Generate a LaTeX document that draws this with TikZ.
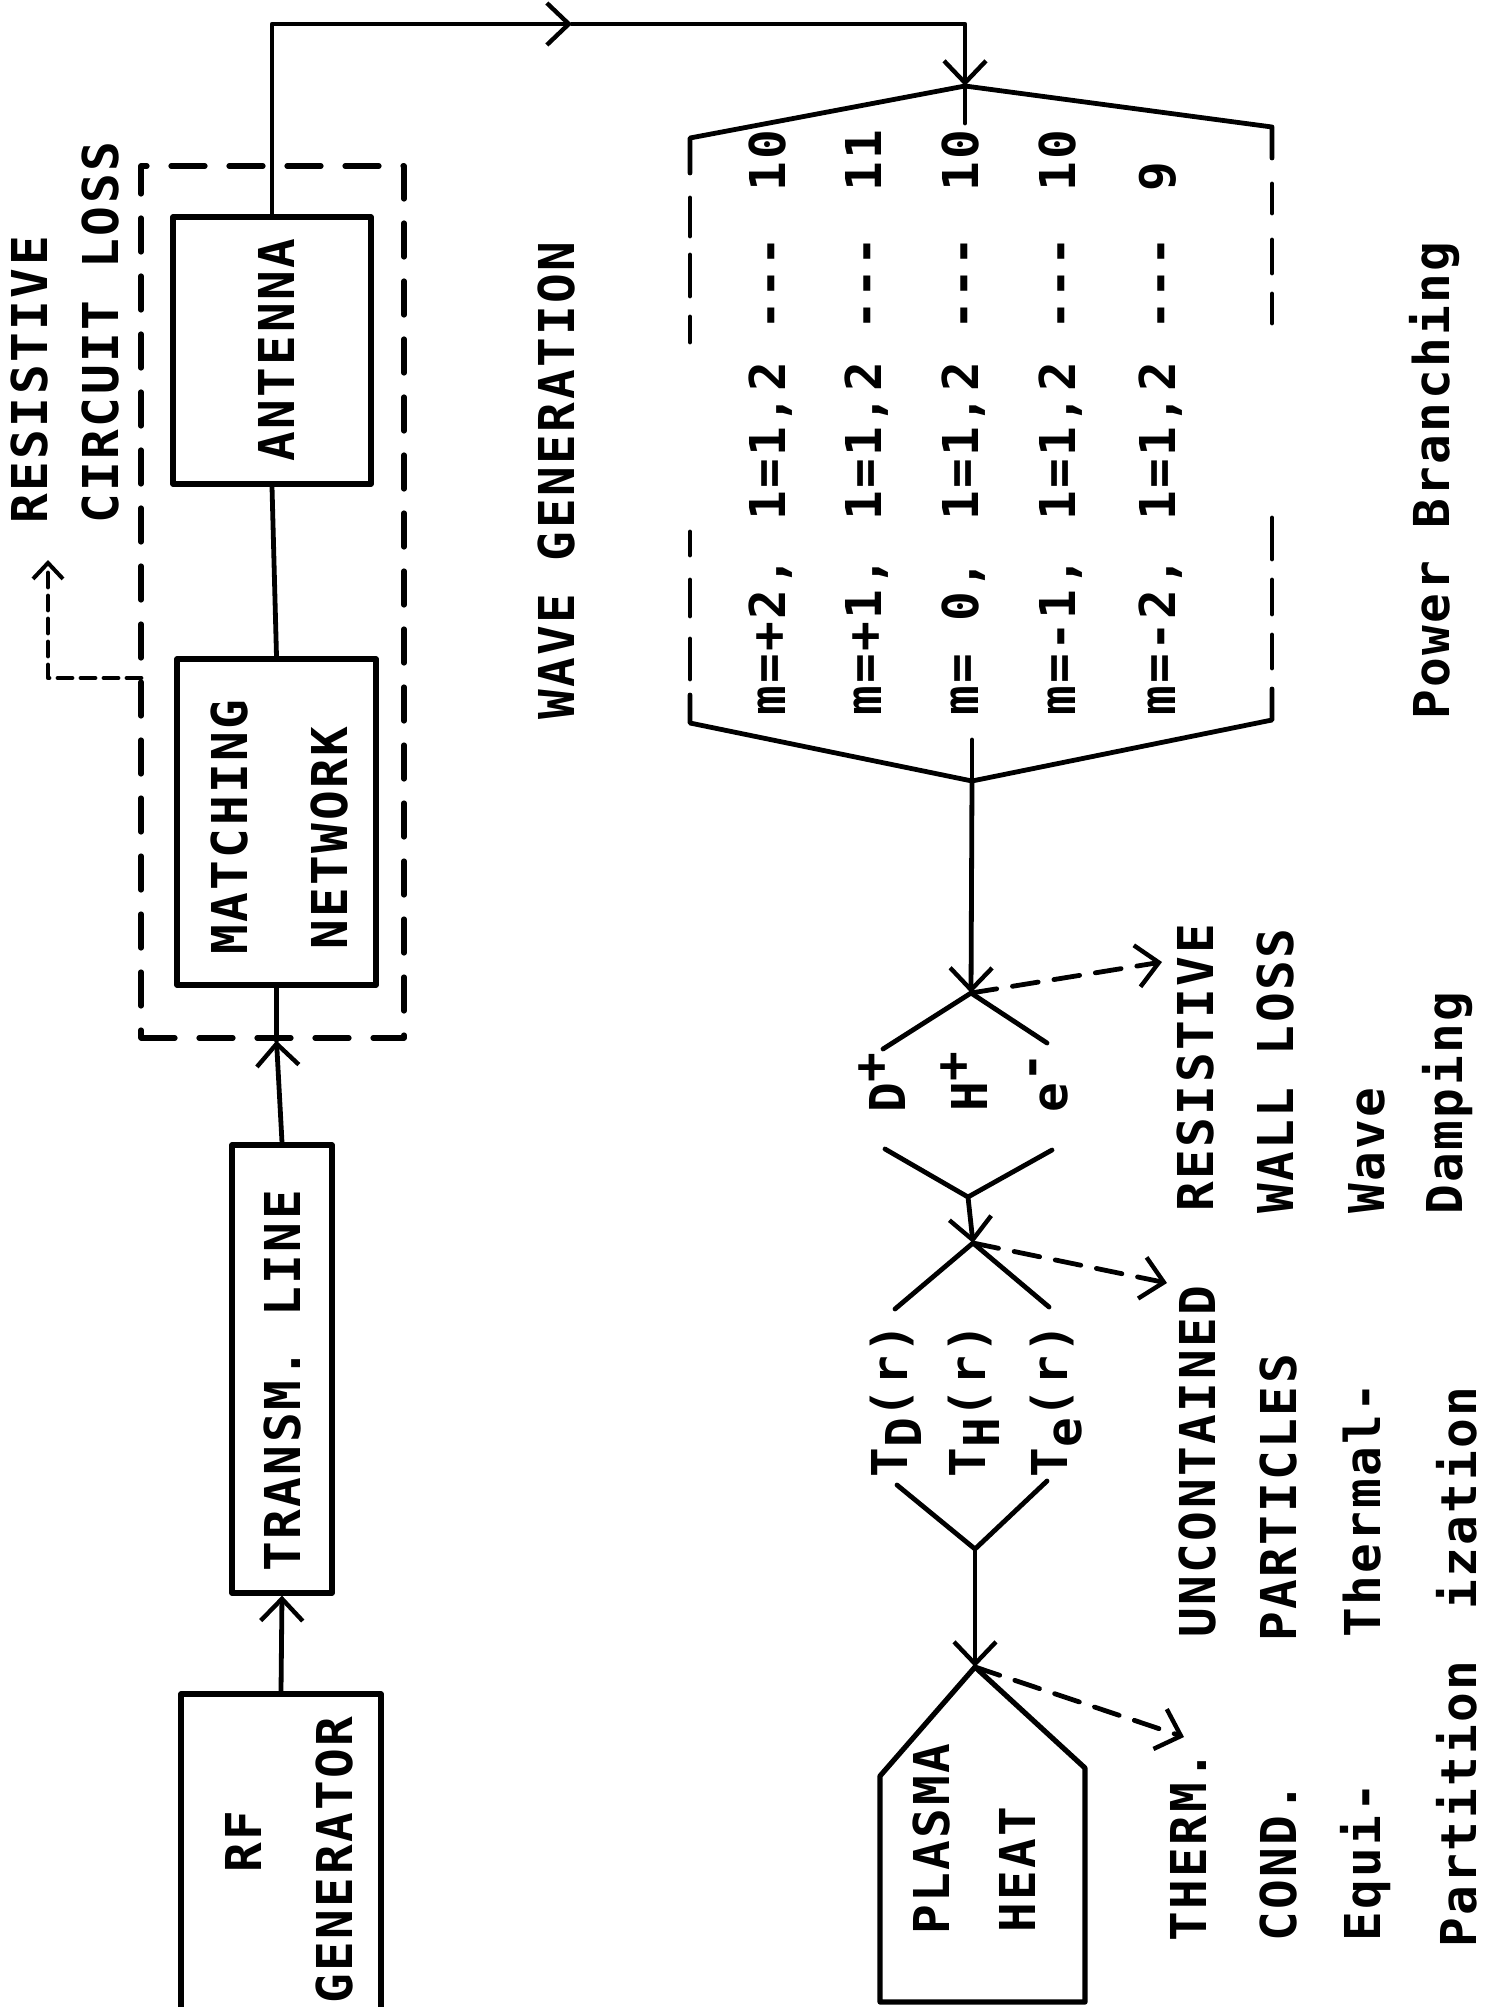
\documentclass[tikz,border=0pt]{standalone}
\usepackage{fontspec}
\newfontfamily\tw{DejaVu Sans Mono}[LetterSpace=5]
\usetikzlibrary{arrows.meta}
\begin{document}
\begin{tikzpicture}[x=0.5pt,y=-0.5pt,line width=2.4pt,line cap=round,line join=round,
  lbl/.style={font=\tw\bfseries\fontsize{24.7}{29}\selectfont,inner sep=0pt,rotate=90,anchor=base west},
  box/.style={draw,line width=2.6pt,inner sep=0pt},
  tipA/.style={-{Straight Barb[length=11pt,width=21pt,line width=2.2pt]}},
  dashA/.style={dash pattern=on 13pt off 8pt,-{Straight Barb[length=11pt,width=21pt,line width=2.2pt]}},
  dashS/.style={dash pattern=on 7pt off 4.5pt,-{Straight Barb[length=8pt,width=15pt,line width=2pt]}},
  dbox/.style={draw,dash pattern=on 17pt off 12pt,line width=2.6pt,inner sep=0pt}]
\fill[white] (0,0) rectangle (1494,2007);
\useasboundingbox (0,0) rectangle (1494,2007);

% ---- left chain ----
\node[dbox,minimum width=131.5pt,minimum height=436pt] (dr) at (272.5,602) {};
\node[box,minimum width=99pt,minimum height=133.5pt] (ant) at (272,350.5) {};
\node[box,minimum width=99.5pt,minimum height=163pt] (mn) at (276.5,822) {};
\node[box,minimum width=50pt,minimum height=224pt] (tl) at (282,1369) {};
\node[box,minimum width=100pt,minimum height=173pt] (rf) at (281,1867) {};

\node[lbl] (tAnt) at (294,464) {ANTENNA};
\node[lbl] (tMa) at (247,957) {MATCHING};
\node[lbl] (tNe) at (347,952) {NETWORK};
\node[lbl] (tTl) at (300,1574) {TRANSM. LINE};
\node[lbl] (tRf) at (261,1875) {RF};
\node[lbl] (tGe) at (352,2006) {GENERATOR};
\node[lbl] (tRe) at (47,526) {RESISTIVE};
\node[lbl] (tCi) at (118,526) {CIRCUIT LOSS};
\node[lbl] (tWg) at (574,722) {WAVE GENERATION};
\node[lbl] (tPb) at (1449,722) {Power Branching};

\coordinate (m1) at (572,24);
\coordinate (mArr) at (mn.south |- dr.south);
\coordinate (dl1) at (141,678);
\coordinate (dl2) at (48,560);

\draw[tipA] (ant.north) |- (m1);
\draw (ant.south) -- (mn.north);
\draw[tipA] (tl.north) -- (mArr);
\draw (mArr) -- (mn.south);
\draw[tipA] (rf.north) -- (tl.south);
\draw[dashS] (dl1) -| (dl2);

% ---- power branching hexagon ----
\coordinate (hA) at (965,86);
\coordinate (hTs) at (965,123);
\coordinate (hL1) at (690,138);
\coordinate (hR1) at (1272,127);
\coordinate (hL2) at (690,723);
\coordinate (hR2) at (1272,720);
\coordinate (hB) at (972,781);
\coordinate (hBs) at (972,740);

\draw[tipA] (m1) -| (hA);
\draw (hA) -- (hTs);
\draw (690,173) -- (hL1) -- (hA) -- (hR1) -- (1272,158);
\draw (690,695) -- (hL2) -- (hB) -- (hR2) -- (1272,689);
\foreach \a/\b in {198/236,255/296,317/342,532/555,580/616,639/679}
  \draw (690,\a) -- (690,\b);
\foreach \a/\b in {184/213,240/273,294/323,518/559,580/614,635/668}
  \draw (1272,\a) -- (1272,\b);

\foreach \bl/\m/\v [count=\i] in {785/{m=+2,}/10,881/{m=+1,}/11,978/{m= 0,}/10,1075/{m=-1,}/10,1175/{m=-2,}/9}{
  \node[lbl] (ra\i) at (\bl,718) {\m};
  \node[lbl] (rb\i) at (\bl,523) {1=1,2};
  \node[lbl] (rc\i) at (\bl,333) {-{}-{}-};
  \node[lbl] (rd\i) at (\bl,194) {\v};
}

% ---- damping chain ----
\coordinate (J1) at (971,993);
\coordinate (J1l) at (883,1049);
\coordinate (J1r) at (1047,1043);
\coordinate (V1l) at (885,1149);
\coordinate (V1) at (968,1197);
\coordinate (V1r) at (1052,1150);
\coordinate (J2) at (973,1243);
\coordinate (J2l) at (895,1309);
\coordinate (J2r) at (1049,1307);
\coordinate (V2l) at (897,1485);
\coordinate (V2) at (975,1549);
\coordinate (V2r) at (1047,1481);
\coordinate (P) at (975,1667);
\coordinate (la1) at (1162,962);
\coordinate (la2) at (1167,1283);
\coordinate (la3) at (1184,1737);

\draw (hBs) -- (hB);
\draw[tipA] (hB) -- (J1);
\draw (J1l) -- (J1) -- (J1r);
\draw (V1l) -- (V1) -- (V1r);
\draw[tipA] (V1) -- (J2);
\draw (J2l) -- (J2) -- (J2r);
\draw (V2l) -- (V2) -- (V2r);
\draw[tipA] (V2) -- (P);
\draw[line width=2.6pt] (880,2002) -- (880,1776) -- (P) -- (1085,1768) -- (1085,2002) -- cycle;
\draw[dashA] (J1) -- (la1);
\draw[dashA] (J2) -- (la2);
\draw[dashA] (P) -- (la3);

\node[lbl] (sD) at (905,1115) {D\raisebox{9pt}{+}};
\node[lbl] (sH) at (987,1114) {H\raisebox{9pt}{+}};
\node[lbl] (sE) at (1067,1115) {e\raisebox{10pt}{-}};
\node[lbl] (tD) at (907,1480) {T\raisebox{-7pt}{D}(r)};
\node[lbl] (tH) at (985,1480) {T\raisebox{-7pt}{H}(r)};
\node[lbl] (tE) at (1067,1480) {T\raisebox{-7pt}{e}(r)};
\node[lbl] (tPl) at (949,1937) {PLASMA};
\node[lbl] (tHe) at (1035,1935) {HEAT};

\node[lbl] (c1) at (1213,1214) {RESISTIVE};
\node[lbl] (c2) at (1293,1216) {WALL LOSS};
\node[lbl] (c3) at (1384,1216) {Wave};
\node[lbl] (c4) at (1462,1217) {Damping};
\node[lbl] (b1) at (1215,1640) {UNCONTAINED};
\node[lbl] (b2) at (1296,1644) {PARTICLES};
\node[lbl] (b3) at (1380,1640) {Thermal-};
\node[lbl] (b4) at (1476,1612) {ization};
\node[lbl] (a1) at (1206,1944) {THERM.};
\node[lbl] (a2) at (1296,1944) {COND.};
\node[lbl] (a3) at (1380,1944) {Equi-};
\node[lbl] (a4) at (1476,1950) {Partition};
\end{tikzpicture}
\end{document}
